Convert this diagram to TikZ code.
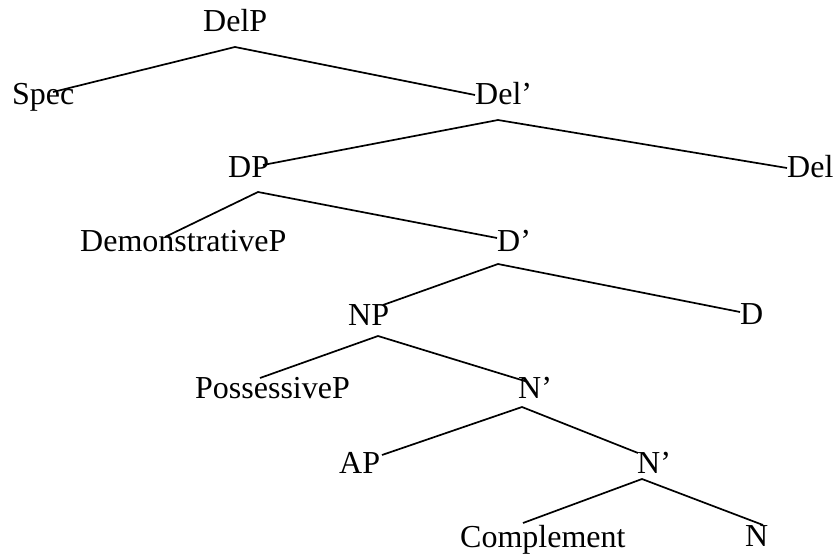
\documentclass[tikz,border=0pt]{standalone}
\usepackage{fontspec}
\setmainfont{Liberation Serif}
\usepackage{tikz}
\tikzset{
  lab/.style={inner sep=0pt, anchor=base west, font=\fontsize{32}{36}\selectfont},
  br/.style={line width=1.7pt, black},
}

\begin{document}
\begin{tikzpicture}[x=1pt, y=-1pt]
  \useasboundingbox (0,0) rectangle (836,556);

  % ── Labels ─────────────────────────────────────────────────────────────────
  \node[lab] at (203,32)  (delp)   {DelP};
  \node[lab] at (12,105)  (spec)   {Spec};
  \node[lab] at (475,105) (delbar) {Del’};
  \node[lab] at (228,178) (dp)     {DP};
  \node[lab] at (787,178) (del)    {Del};
  \node[lab] at (80,252)  (dem)    {DemonstrativeP};
  \node[lab] at (497,252) (dbar)   {D’};
  \node[lab] at (348,326) (np)     {NP};
  \node[lab] at (740,325) (d)      {D};
  \node[lab] at (195,398) (poss)   {PossessiveP};
  \node[lab] at (518,398) (nbara)  {N’};
  \node[lab] at (339,473) (ap)     {AP};
  \node[lab] at (637,473) (nbarb)  {N’};
  \node[lab] at (460,547) (comp)   {Complement};
  \node[lab] at (745,546) (n)      {N};

  % ── Branches ───────────────────────────────────────────────────────────────
  \draw[br] ([shift={(41,-13)}]spec.base west) -- ([shift={(32,15)}]delp.base west)
            -- ([shift={(0,-10)}]delbar.base west);
  \draw[br] ([shift={(35,-13)}]dp.base west) -- ([shift={(23,15)}]delbar.base west)
            -- ([shift={(0,-10)}]del.base west);
  \draw[br] ([shift={(85,-15)}]dem.base west) -- ([shift={(30,14)}]dp.base west)
            -- ([shift={(0,-14)}]dbar.base west);
  \draw[br] ([shift={(35,-21)}]np.base west) -- ([shift={(1,12)}]dbar.base west)
            -- ([shift={(0,-13)}]d.base west);
  \draw[br] ([shift={(65,-20)}]poss.base west) -- ([shift={(30,10)}]np.base west)
            -- ([shift={(10,-16)}]nbara.base west);
  \draw[br] ([shift={(43,-18)}]ap.base west) -- ([shift={(4,9)}]nbara.base west)
            -- ([shift={(1,-20)}]nbarb.base west);
  \draw[br] ([shift={(63,-24)}]comp.base west) -- ([shift={(5,6)}]nbarb.base west)
            -- ([shift={(18,-21)}]n.base west);
\end{tikzpicture}
\end{document}
